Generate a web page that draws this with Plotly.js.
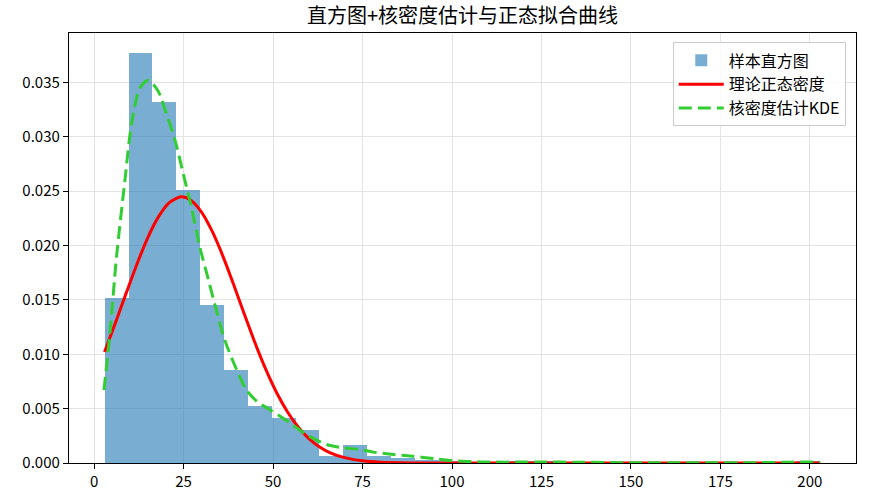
<!DOCTYPE html>
<html>
<head>
<meta charset="utf-8">
<script src="https://cdn.plot.ly/plotly-3.0.1.min.js"></script>
<style>html,body{margin:0;padding:0;background:#fff;}#chart{width:871px;height:494px;}</style>
</head>
<body>
<div id="chart"></div>
<script>
// Histogram (density)
const histStart = 2.97;
const binWidth = 6.664;
const histDensity = [0.0152, 0.0377, 0.0332, 0.0251, 0.0145, 0.0086, 0.0052, 0.0041, 0.0030, 0.0006,
                     0.0017, 0.0006, 0.00045, 0.0003, 0.00015, 0, 0, 0.00015, 0.00015, 0,
                     0, 0, 0, 0, 0, 0, 0, 0, 0, 0.00015];

// Theoretical normal density
const normX = [2.9, 6, 9, 12, 15, 18, 21, 24.4, 27, 30, 33, 36, 39, 42, 45, 48, 51, 54, 57, 60, 63, 66, 70, 75, 80, 88, 100, 130, 160, 190, 202.9];
const normY = [0.0102, 0.01295, 0.01567, 0.01833, 0.02074, 0.02266, 0.02395, 0.02448, 0.02417, 0.02308, 0.0213, 0.01901, 0.01639, 0.01366, 0.01101, 0.00858, 0.00646, 0.00471, 0.00331, 0.00225, 0.00148, 0.00094, 0.00049, 0.0002, 0.00007, 0.00001, 0, 0, 0, 0, 0];

// Kernel density estimate
const kdeX = [2.74, 4.4, 6.26, 8.6, 10.45, 12.8, 15.1, 17.9, 20.2, 22.6, 24.9, 27.2, 29.5, 31.9, 34.2, 36.5, 39.8, 42.6, 45.4, 49.1, 54.7, 59.4, 65, 69.6, 74, 78, 83, 89, 95, 100, 108, 115, 125, 135, 150, 170, 185, 195, 200, 202.9];
const kdeY = [0.0067, 0.0119, 0.019, 0.026, 0.0312, 0.0345, 0.0352, 0.0342, 0.0321, 0.0297, 0.0266, 0.0235, 0.0199, 0.0169, 0.0140, 0.0113, 0.0086, 0.0067, 0.0057, 0.0049, 0.0037, 0.0026, 0.0017, 0.0014, 0.00125, 0.001, 0.0008, 0.00062, 0.0004, 0.00022, 0.0001, 0.00008, 0.0001, 0.00007, 0.00003, 0.00002, 0.00003, 0.00008, 0.0001, 0.00008];

const xTicks = [0, 25, 50, 75, 100, 125, 150, 175, 200];
const yTicks = [0, 0.005, 0.010, 0.015, 0.020, 0.025, 0.030, 0.035];

const labels = ['样本直方图', '理论正态密度', '核密度估计KDE'];
const titleText = '直方图+核密度估计与正态拟合曲线';

const binCenters = histDensity.map((_, i) => histStart + binWidth * (i + 0.5));

const font = '"Noto Sans CJK SC", "Noto Sans", sans-serif';

const traces = [
  {
    type: 'bar', name: labels[0], x: binCenters, y: histDensity, width: binWidth,
    marker: {color: 'rgba(31,119,180,0.6)', line: {width: 0}}
  },
  {
    type: 'scatter', mode: 'lines', name: labels[1], x: normX, y: normY,
    line: {color: 'red', width: 3, shape: 'spline', smoothing: 0.8}
  },
  {
    type: 'scatter', mode: 'lines', name: labels[2], x: kdeX, y: kdeY,
    line: {color: '#32cd32', width: 3, dash: '13px,6px', shape: 'spline', smoothing: 0.8}
  }
];

const axisCommon = {
  showline: true, mirror: true, linecolor: 'black', linewidth: 1.2,
  ticks: 'outside', ticklen: 5, tickcolor: 'black', tickwidth: 1,
  showgrid: true, gridcolor: '#e3e3e3', gridwidth: 1, zeroline: false,
  tickfont: {family: font, size: 15, color: 'black'}
};

const layout = {
  width: 871, height: 494,
  margin: {l: 69, r: 15, t: 33, b: 31},
  paper_bgcolor: 'white', plot_bgcolor: 'white',
  font: {family: font, color: 'black'},
  bargap: 0,
  title: {text: titleText, font: {family: font, size: 20, color: 'black'},
          x: 0.5, xref: 'paper', y: 1 - 16 / 494, yref: 'container', yanchor: 'middle'},
  xaxis: Object.assign({}, axisCommon, {range: [-7.03, 212.9], tickvals: xTicks, ticktext: xTicks.map(String)}),
  yaxis: Object.assign({}, axisCommon, {range: [0, 0.03955], tickvals: yTicks, ticktext: yTicks.map(v => v.toFixed(3))}),
  legend: {
    x: 0.987, y: 0.978, xanchor: 'right', yanchor: 'top',
    bgcolor: 'rgba(255,255,255,0.8)', bordercolor: '#cccccc', borderwidth: 1,
    font: {family: font, size: 16, color: 'black'}, tracegroupgap: 0, itemwidth: 45
  },
  showlegend: true
};

Plotly.newPlot('chart', traces, layout, {displayModeBar: false, staticPlot: true});
</script>
</body>
</html>
